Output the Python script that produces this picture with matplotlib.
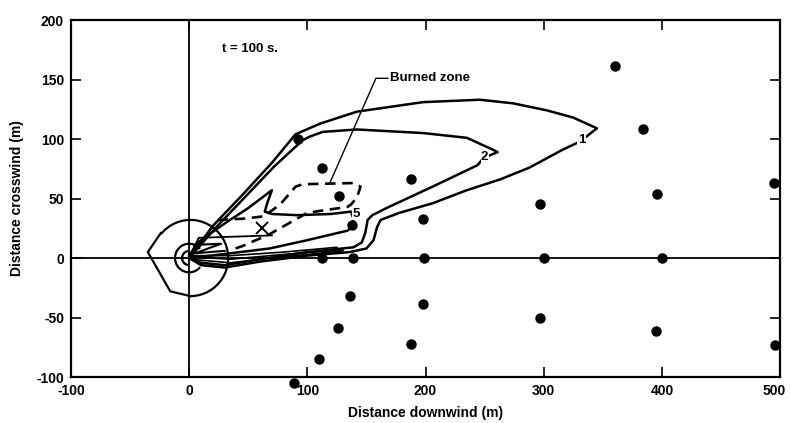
import matplotlib
matplotlib.use("Agg")
import matplotlib.pyplot as plt
from matplotlib.patches import Arc
from matplotlib.transforms import ScaledTranslation

plt.rcParams['font.family'] = ['Liberation Sans', 'DejaVu Sans']
plt.rcParams['font.weight'] = 'bold'

# ---- data ----
x_ticks = [-100, 0, 100, 200, 300, 400, 500]
y_ticks = [-100, -50, 0, 50, 100, 150, 200]

dots_x = [92, 112, 188, 127, 138, 198, 297, 360, 384, 396, 495,
          112, 139, 199, 300, 400,
          136, 126, 110, 198, 188, 297, 395, 496, 89]
dots_y = [100, 76, 66, 52, 28, 33, 45, 161, 108, 54, 63,
          0, 0, 0, 0, 0,
          -32, -59, -85, -39, -72, -50, -61, -73, -105]

c1_x = [0, 20, 45, 70, 90, 111, 142, 198, 246, 274, 303, 325, 345, 331, 316, 288,
        263, 235, 206, 178, 162, 159, 156, 150, 136, 100, 60, 30, 10, 0]
c1_y = [0, 27, 53, 80, 104, 113, 123, 131, 133, 130, 124, 118, 109, 98, 91, 76,
        66, 57, 46, 38, 32, 26, 15, 8, 5, 2, -3, -8, -6, 0]

c2_x = [0, 22, 48, 72, 96, 102, 113, 142, 198, 235, 257, 261, 249, 244, 206, 167,
        155, 151, 149, 146, 139, 100, 60, 30, 10, 0]
c2_y = [0, 25, 52, 77, 99, 102, 106, 108, 105, 101, 91, 89, 84, 78, 60, 42,
        36, 32, 21, 13, 9, 5, -1, -6, -4, 0]

c5_x = [0, 7, 30, 50, 70, 66, 64, 70, 91, 120, 137, 139, 138, 134, 100, 68, 35, 10, 0]
c5_y = [2, 13, 29, 42, 57, 46, 39, 37, 36, 37, 39, 33, 26, 23, 15, 8, 4, 1, 2]

c10_x = [0, 8, 40, 70]
c10_y = [0, 17, 18, 19]

cz_x = [4, 27, 5, 30]
cz_y = [11, 12, 4, 6]

fan1_x = [0, 35, 80, 130]
fan1_y = [-1, -4, 1, 6]
fan2_x = [0, 35, 80, 130]
fan2_y = [1, -1, 3, 7]
fan3_x = [0, 35, 80, 125]
fan3_y = [2, 2, 5, 9]

burn_x = [24, 45, 63, 77, 90, 96, 139, 145, 142, 137, 134, 100, 68, 45, 36]
burn_y = [32, 33, 35, 45, 60, 62, 63, 60, 51, 45, 43, 38, 20, 10, 7]

big_circle = dict(cx=1, cy=0, r=32, t1=-90, t2=141)
big_flat_x = [-24, -35, -16, 1]
big_flat_y = [21, 5, -28, -32]
small_arcs = [(12, 40, 320), (6, 100, 260)]

x_mark = (62, 25)
leader_x = [168, 158, 119]
leader_y = [151, 151, 63]

# ---- figure ----
fig = plt.figure(figsize=(7.9, 4.23), dpi=100)
ax = fig.add_axes([0.0899, 0.1087, 0.8975, 0.8440])
ax.set_xlim(-100, 500)
ax.set_ylim(-100, 200)

ax.axhline(0, color='black', lw=1.3, zorder=1)
ax.axvline(0, color='black', lw=1.3, zorder=1)

lw_main = 1.8
ax.plot(c1_x, c1_y, color='black', lw=lw_main, solid_joinstyle='round')
ax.plot(c2_x, c2_y, color='black', lw=lw_main, solid_joinstyle='round')
ax.plot(c5_x, c5_y, color='black', lw=lw_main, solid_joinstyle='round')
ax.plot(c10_x, c10_y, color='black', lw=1.3)
ax.plot(cz_x, cz_y, color='black', lw=1.5)
for fx, fy in [(fan1_x, fan1_y), (fan2_x, fan2_y), (fan3_x, fan3_y)]:
    ax.plot(fx, fy, color='black', lw=1.2)
ax.plot(burn_x, burn_y, color='black', lw=1.9, dashes=(4, 2.5))

ax.add_patch(Arc((big_circle['cx'], big_circle['cy']), 2 * big_circle['r'], 2 * big_circle['r'],
                 theta1=big_circle['t1'], theta2=big_circle['t2'], color='black', lw=1.6))
ax.plot(big_flat_x, big_flat_y, color='black', lw=1.6)
for r, t1, t2 in small_arcs:
    ax.add_patch(Arc((0, 0), 2 * r, 2 * r, theta1=t1, theta2=t2, color='black', lw=1.6))

ax.plot(dots_x, dots_y, 'o', color='black', ms=6.5, clip_on=False, zorder=5)
ax.plot([x_mark[0]], [x_mark[1]], 'x', color='black', ms=9, mew=1.4)

ax.plot(leader_x, leader_y, color='black', lw=1.0)
ax.text(170, 151, 'Burned zone', fontsize=9.5, fontweight='bold', va='center', ha='left')
ax.text(28, 176, 't = 100 s.', fontsize=9.5, fontweight='bold', va='center', ha='left')

lab_box = dict(facecolor='white', edgecolor='none', pad=0.3)
ax.text(332, 99, '1', fontsize=9.5, fontweight='bold', ha='center', va='center', bbox=lab_box)
ax.text(250, 85, '2', fontsize=9.5, fontweight='bold', ha='center', va='center', bbox=lab_box)
ax.text(141, 37, '5', fontsize=9.5, fontweight='bold', ha='center', va='center', bbox=lab_box)

ax.set_xticks(x_ticks)
ax.set_yticks(y_ticks)
ax.set_xticklabels([str(v) for v in x_ticks], fontweight='bold', fontsize=10)
ax.set_yticklabels([str(v) for v in y_ticks], fontweight='bold', fontsize=10)
ax.tick_params(direction='in', length=7, width=1.2, top=True, right=True, pad=5)
for s in ax.spines.values():
    s.set_linewidth(1.6)

last = ax.get_xticklabels()[-1]
last.set_transform(last.get_transform() + ScaledTranslation(-6 / 100, 0, fig.dpi_scale_trans))

ax.set_xlabel('Distance downwind (m)', fontsize=10, fontweight='bold', labelpad=6)
ax.set_ylabel('Distance crosswind (m)', fontsize=10, fontweight='bold', labelpad=9)

fig.savefig('out.png', dpi=100)
